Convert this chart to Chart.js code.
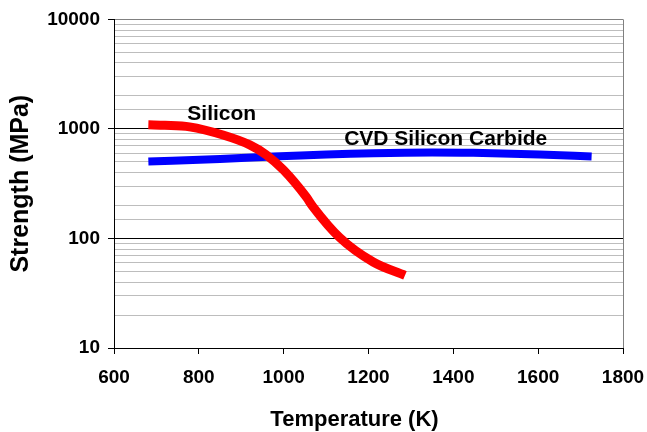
<!DOCTYPE html>
<html>
<head>
<meta charset="utf-8">
<script src="https://cdn.jsdelivr.net/npm/chart.js@4/dist/chart.umd.min.js"></script>
<style>
  html, body { margin: 0; padding: 0; background: #fff; }
</style>
</head>
<body>
<canvas id="chart" width="647" height="432"></canvas>
<script>
// values
var siliconTemp = [681, 720, 778, 857, 920, 959, 1000, 1053, 1069, 1132, 1211, 1286];
var siliconStrength = [1090, 1080, 1045, 880, 715, 580, 420, 240, 195, 102, 61, 46];

var sicTemp = [681, 850, 975, 1211, 1350, 1447, 1604, 1726];
var sicStrength = [505, 531, 560, 600, 610, 605, 585, 560];

var xTicks = [600, 800, 1000, 1200, 1400, 1600, 1800];
var yTicks = [10, 100, 1000, 10000];

// in-plot labels, placed in data units
var noteText = ['Silicon', 'CVD Silicon Carbide'];
var noteTemp = [854, 1382];
var noteStrength = [1370, 813];

var xTitle = 'Temperature (K)';
var yTitle = 'Strength (MPa)';

function toPoints(xs, ys) {
    var pts = [];
    for (var i = 0; i < xs.length; i++) {
        pts.push({x: xs[i], y: ys[i]});
    }
    return pts;
}

function isMajor(v) {
    var l = Math.log10(v);
    return Math.abs(l - Math.round(l)) < 1e-9;
}

var fontFamily = '"Liberation Sans", Arial, sans-serif';

var notesPlugin = {
    id: 'notes',
    afterDatasetsDraw: function(chart) {
        var ctx = chart.ctx;
        var xs = chart.scales.x, ys = chart.scales.y;
        var area = chart.chartArea;
        ctx.save();
        // right frame line
        ctx.strokeStyle = '#808080';
        ctx.lineWidth = 1;
        ctx.beginPath();
        ctx.moveTo(Math.round(area.right) + 0.5, area.top);
        ctx.lineTo(Math.round(area.right) + 0.5, area.bottom);
        ctx.stroke();

        ctx.fillStyle = '#000';
        ctx.textAlign = 'center';
        ctx.textBaseline = 'middle';
        ctx.font = 'bold 21px ' + fontFamily;
        for (var i = 0; i < noteText.length; i++) {
            ctx.fillText(noteText[i], xs.getPixelForValue(noteTemp[i]), ys.getPixelForValue(noteStrength[i]));
        }

        // x axis title, sits a little left of the plot centre
        ctx.font = 'bold 22px ' + fontFamily;
        ctx.textBaseline = 'alphabetic';
        ctx.fillText(xTitle, (area.left + area.right) / 2 - 14, 426);
        ctx.restore();
    }
};

var chartData = {
    datasets: [
        {
            label: 'Silicon',
            data: toPoints(siliconTemp, siliconStrength),
            borderColor: '#ff0000',
            borderWidth: 9,
            pointRadius: 0,
            cubicInterpolationMode: 'monotone',
            fill: false
        },
        {
            label: 'CVD Silicon Carbide',
            data: toPoints(sicTemp, sicStrength),
            borderColor: '#0000ff',
            borderWidth: 8,
            pointRadius: 0,
            cubicInterpolationMode: 'monotone',
            fill: false
        }
    ]
};

var chartOptions = {
    responsive: false,
    animation: false,
    layout: {padding: {left: 0, right: 0, top: 16, bottom: 0}},
    plugins: {
        legend: {display: false},
        tooltip: {enabled: false}
    },
    scales: {
        x: {
            type: 'linear',
            min: 600,
            max: 1800,
            afterBuildTicks: function(scale) {
                scale.ticks = xTicks.map(function(v) { return {value: v}; });
            },
            afterFit: function(scale) {
                scale.height = 84;
                scale.paddingLeft = 0;
                scale.paddingRight = 24;
            },
            grid: {
                drawOnChartArea: false,
                drawTicks: true,
                tickLength: 6,
                tickColor: '#000'
            },
            border: {color: '#000', width: 1},
            ticks: {
                color: '#000',
                padding: 12,
                maxRotation: 0,
                font: {family: fontFamily, size: 19, weight: 'bold'},
                callback: function(value) { return String(value); }
            }
        },
        y: {
            type: 'logarithmic',
            min: 10,
            max: 10000,
            afterFit: function(scale) { scale.width = 114; },
            grid: {
                tickLength: 6,
                color: function(c) {
                    var v = c.tick.value;
                    if (v === 10000) return '#808080';
                    return isMajor(v) ? '#000' : '#bdbdbd';
                },
                tickColor: function(c) {
                    return isMajor(c.tick.value) ? '#000' : 'rgba(0,0,0,0)';
                }
            },
            border: {color: '#000', width: 1},
            ticks: {
                color: '#000',
                padding: 8,
                autoSkip: false,
                font: {family: fontFamily, size: 19, weight: 'bold'},
                callback: function(value) {
                    return yTicks.indexOf(value) >= 0 ? String(value) : '';
                }
            },
            title: {
                display: true,
                text: yTitle,
                color: '#000',
                padding: {top: 6, bottom: 6},
                font: {family: fontFamily, size: 25, weight: 'bold'}
            }
        }
    }
};

new Chart(document.getElementById('chart'), {
    type: 'line',
    data: chartData,
    options: chartOptions,
    plugins: [notesPlugin]
});
</script>
</body>
</html>
